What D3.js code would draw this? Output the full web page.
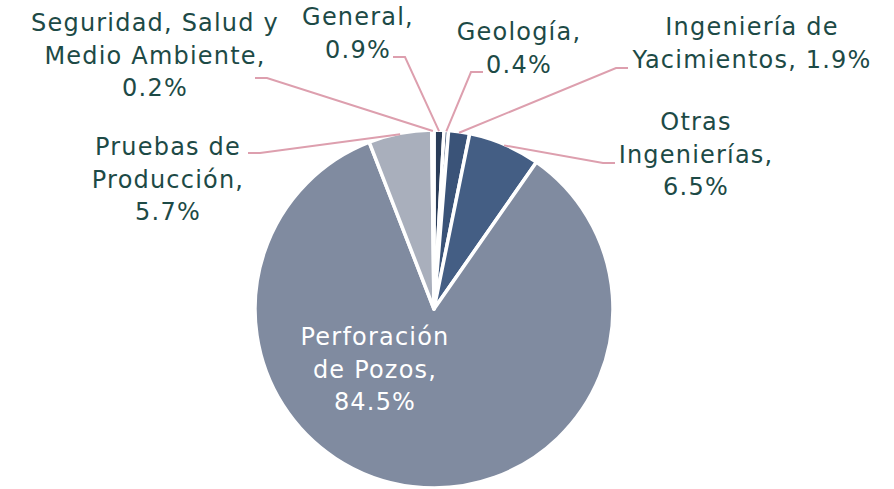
<!DOCTYPE html>
<html>
<head>
<meta charset="utf-8">
<script src="https://cdn.jsdelivr.net/npm/d3@7"></script>
<style>
  body { margin: 0; background: #fff; }
  text { font-family: "DejaVu Sans", sans-serif; }
</style>
</head>
<body>
<div id="chart"></div>
<script>
// Data
const CATEGORIES = ['General', 'Geología', 'Ingeniería de Yacimientos', 'Otras Ingenierías',
    'Perforación de Pozos', 'Pruebas de Producción', 'Seguridad, Salud y Medio Ambiente']
const VALUES = [0.9, 0.4, 1.9, 6.5, 84.5, 5.7, 0.2]
// label text, "%v" gets the value
const LABEL_LINES = [
    ['General,', '%v'],
    ['Geología,', '%v'],
    ['Ingeniería de', 'Yacimientos, %v'],
    ['Otras', 'Ingenierías,', '%v'],
    ['Perforación', 'de Pozos,', '%v'],
    ['Pruebas de', 'Producción,', '%v'],
    ['Seguridad, Salud y', 'Medio Ambiente,', '%v']
]
const SLICE_COLORS = ['#2a3c58', '#30466a', '#3a5378', '#445e84', '#808ba0', '#a9afbc', '#c6cad3']

// Chart dimensions
const WIDTH = 894
const HEIGHT = 489
const CX = 434, CY = 309, R = 179

// label placement: center x, first baseline y, leader end (lx, ly), side of elbow
const LABEL_POS = [
    { x: 358, y: 25, lx: 393, ly: 57, dir: 1 },
    { x: 519, y: 40, lx: 483, ly: 72, dir: -1 },
    { x: 752, y: 35, lx: 628, ly: 68, dir: -1 },
    { x: 696, y: 130, lx: 615, ly: 163, dir: -1 },
    { x: 375, y: 345, inside: true },
    { x: 168, y: 155, lx: 248, ly: 153, dir: 1 },
    { x: 155, y: 31, lx: 255, ly: 78, dir: 1 }
]

const fmt = d3.format('.1f')

const svg = d3.select('#chart').append('svg')
    .attr('width', WIDTH)
    .attr('height', HEIGHT)

const pie = d3.pie().sort(null).value((d) => d.value)
const arcs = pie(CATEGORIES.map((c, i) => ({ name: c, value: VALUES[i], i: i })))

const arc = d3.arc().innerRadius(0).outerRadius(R)

const g = svg.append('g').attr('transform', `translate(${CX},${CY})`)

g.selectAll('path').data(arcs).enter()
    .append('path')
    .attr('d', arc)
    .attr('fill', (d) => SLICE_COLORS[d.data.i])
    .attr('stroke', '#fff')
    .attr('stroke-width', 3.5)
    .attr('stroke-linejoin', 'round')

// Leader lines
arcs.forEach((d) => {
    const p = LABEL_POS[d.data.i]
    if (p.inside) return
    const mid = (d.startAngle + d.endAngle) / 2
    const sx = CX + Math.sin(mid) * (R - 1)
    const sy = CY - Math.cos(mid) * (R - 1)
    svg.append('polyline')
        .attr('points', [[sx, sy], [p.lx + p.dir * 12, p.ly], [p.lx, p.ly]].map((q) => q.join(',')).join(' '))
        .attr('fill', 'none')
        .attr('stroke', '#dd9fae')
        .attr('stroke-width', 2)
})

// Labels
arcs.forEach((d) => {
    const p = LABEL_POS[d.data.i]
    const t = svg.append('text')
        .attr('text-anchor', 'middle')
        .attr('font-size', 24)
        .attr('letter-spacing', 1.2)
        .attr('fill', p.inside ? '#ffffff' : '#1d4a46')
    LABEL_LINES[d.data.i].forEach((line, k) => {
        t.append('tspan')
            .attr('x', p.x)
            .attr('y', p.y + k * 32.5)
            .text(line.replace('%v', fmt(d.data.value) + '%'))
    })
})
</script>
</body>
</html>
